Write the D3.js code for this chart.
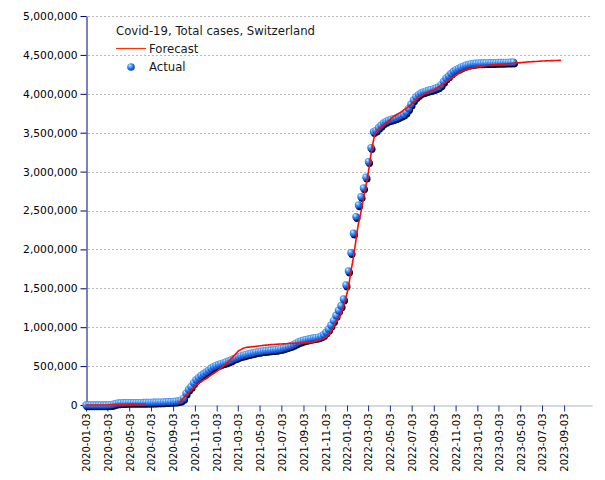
<!DOCTYPE html>
<html><head><meta charset="utf-8">
<script src="https://cdn.jsdelivr.net/npm/d3@7"></script>
<style>body{margin:0;background:#fff}svg{display:block}</style>
</head><body>
<script>
// ---- data ----
const title = "Covid-19, Total cases, Switzerland";
const seriesNames = ["Forecast", "Actual"];
const startDate = "2020-01-03"; // weekly observations from this date
const actual = [
0,0,0,0,0,0,0,0,0,1000,
2000,10000,20000,25000,27000,28500,29700,30200,30500,30700,
30900,31000,31100,31200,31600,32300,33600,34800,35700,36400,
37400,38600,40200,41700,43000,46000,49000,53000,62000,85000,
150000,200000,235000,285000,325000,352000,380000,402000,425000,448000,
472000,493000,507000,520000,532000,542000,552000,565000,578000,595000,
607000,620000,632000,641000,650000,658000,665000,672000,680000,686000,
691000,696000,700000,703000,706000,709000,713000,718000,724000,733000,
742000,752000,762000,776000,795000,810000,822000,832000,840000,848000,
855000,861000,866000,873000,885000,905000,935000,975000,1025000,1085000,
1150000,1215000,1275000,1362000,1542000,1722000,1957000,2207000,2420000,2571000,
2677000,2789000,2927000,3127000,3307000,3513000,3530000,3565000,3595000,3625000,
3645000,3660000,3670000,3680000,3690000,3705000,3720000,3735000,3765000,3810000,
3865000,3920000,3960000,3990000,4010000,4025000,4035000,4045000,4052000,4062000,
4075000,4088000,4115000,4160000,4200000,4230000,4262000,4290000,4310000,4325000,
4342000,4356000,4367000,4377000,4384000,4389000,4392000,4394000,4395000,4396000,
4397000,4398000,4399000,4400000,4401000,4402000,4402000,4403000,4404000,4404000,
4405000,4406000
];
const forecast = [
0,0,0,0,0,0,0,0,0,0,
3000,5000,7000,8000,9000,10000,10000,11000,11000,11000,
12000,12000,12000,12000,12000,null,null,null,null,null,
null,null,null,null,null,null,null,20000,55000,90000,
125000,155000,185000,215000,250000,275000,300000,320000,338000,360000,
385000,405000,425000,450000,475000,500000,528000,560000,595000,625000,
660000,695000,712000,728000,738000,744000,747000,750000,754000,758000,
762000,766000,770000,773000,776000,778000,780000,782000,784000,786000,
788000,790000,792000,793000,795000,796000,797000,799000,800000,802000,
805000,810000,818000,828000,838000,848000,870000,900000,945000,1000000,
1065000,1110000,1170000,1270000,1380000,1520000,1720000,1900000,2120000,2330000,
2480000,2650000,2820000,3000000,3220000,3400000,3510000,3545000,3575000,3600000,
3625000,3650000,3680000,3706000,3725000,3745000,3765000,3790000,3810000,3835000,
3865000,3895000,3925000,3950000,3972000,3992000,4010000,4025000,4040000,4052000,
4068000,4088000,4110000,4130000,4150000,4172000,4195000,4218000,4240000,4262000,
4280000,4295000,4308000,4318000,4326000,4334000,4341000,4347000,4353000,4358000,
4362000,4366000,4369000,4372000,4375000,4378000,4380000,4382000,4384000,4387000,
4390000,4392000,4395000,4398000,4401000,4404000,4407000,4410000,4412000,4414000,
4416000,4418000,4420000,4422000,4423000,4425000,4426000,4427000,4428000,4429000,
4430000
];
const xTickLabels = ["2020-01-03","2020-03-03","2020-05-03","2020-07-03","2020-09-03","2020-11-03",
"2021-01-03","2021-03-03","2021-05-03","2021-07-03","2021-09-03","2021-11-03",
"2022-01-03","2022-03-03","2022-05-03","2022-07-03","2022-09-03","2022-11-03",
"2023-01-03","2023-03-03","2023-05-03","2023-07-03","2023-09-03"];
const yTickValues = [0,500000,1000000,1500000,2000000,2500000,3000000,3500000,4000000,4500000,5000000];
const xDomain = ["2020-01-03","2023-11-20"];

// ---- chart ----
(function () {
const W = 605, H = 480;
const mLeft = 86, mRight = 592, mTop = 16, mBottom = 405;
const parse = d3.utcParse("%Y-%m-%d");
const t0 = parse(startDate);
const dateAt = i => d3.utcDay.offset(t0, 7 * i);

const x = d3.scaleUtc().domain(xDomain.map(parse)).range([mLeft, mRight]);
const y = d3.scaleLinear().domain([0, 5000000]).range([mBottom, mTop]);

const svg = d3.select("body").append("svg").attr("width", W).attr("height", H);
const defs = svg.append("defs");
const grad = defs.append("radialGradient").attr("id", "ball")
  .attr("cx", "40%").attr("cy", "36%").attr("r", "64%").attr("fx", "34%").attr("fy", "28%");
grad.append("stop").attr("offset", "0%").attr("stop-color", "#d8f2ff");
grad.append("stop").attr("offset", "30%").attr("stop-color", "#62b0ff");
grad.append("stop").attr("offset", "68%").attr("stop-color", "#2468e6");
grad.append("stop").attr("offset", "100%").attr("stop-color", "#0d3fae");

// gridlines
svg.append("g").selectAll("line").data(yTickValues.filter(v => v > 0)).join("line")
  .attr("x1", mLeft + 2).attr("x2", mRight - 2)
  .attr("y1", d => Math.round(y(d)) + 0.5).attr("y2", d => Math.round(y(d)) + 0.5)
  .attr("stroke", "#b8b8b8").attr("stroke-width", 1).attr("stroke-dasharray", "2,2");

// x axis
const xAxis = svg.append("g").attr("transform", `translate(0,${mBottom + 0.5})`)
  .call(d3.axisBottom(x).tickValues(xTickLabels.map(parse)).tickSize(6).tickSizeOuter(0)
    .tickFormat(d3.utcFormat("%Y-%m-%d")));
xAxis.select(".domain").attr("stroke", "#a9b2cc");
xAxis.selectAll(".tick line").attr("stroke", "#1a2a80");
xAxis.selectAll(".tick text")
  .attr("font-family", "DejaVu Sans").attr("font-size", "10px").attr("fill", "#000")
  .attr("transform", "rotate(-90)").attr("text-anchor", "end")
  .attr("x", -8).attr("y", 0).attr("dy", "0.38em");

// y axis
const yAxis = svg.append("g").attr("transform", `translate(${mLeft + 0.5},0)`)
  .call(d3.axisLeft(y).tickValues(yTickValues).tickSize(6).tickSizeOuter(0).tickFormat(d3.format(",")));
yAxis.select(".domain").attr("stroke", "#00007a");
yAxis.selectAll(".tick line").attr("stroke", "#00007a");
yAxis.selectAll(".tick text").attr("font-family", "DejaVu Sans").attr("font-size", "10.7px").attr("fill", "#000");

// actual markers: shadows then balls
const pts = actual.map((v, i) => ({ d: dateAt(i), v }));
svg.append("g").selectAll("circle").data(pts).join("circle")
  .attr("cx", p => x(p.d) + 1).attr("cy", p => y(p.v) + 1.6).attr("r", 3.6)
  .attr("fill", "#020a3a");
svg.append("g").selectAll("circle").data(pts).join("circle")
  .attr("cx", p => x(p.d)).attr("cy", p => y(p.v)).attr("r", 3.7)
  .attr("fill", "url(#ball)");

// forecast line
const fpts = forecast.map((v, i) => ({ d: dateAt(i), v }));
svg.append("path").datum(fpts)
  .attr("d", d3.line().defined(p => p.v !== null).x(p => x(p.d)).y(p => y(p.v)).curve(d3.curveMonotoneX))
  .attr("fill", "none").attr("stroke", "#ff0a00").attr("stroke-width", 1.6);

// legend
const lg = svg.append("g").attr("font-family", "DejaVu Sans").attr("font-size", "11.7px").attr("fill", "#1a1a1a");
lg.append("text").attr("x", 116).attr("y", 35).text(title);
lg.append("line").attr("x1", 116).attr("x2", 146).attr("y1", 48.5).attr("y2", 48.5)
  .attr("stroke", "#ff3300").attr("stroke-width", 1.2);
lg.append("text").attr("x", 149).attr("y", 53).text(seriesNames[0]);
lg.append("circle").attr("cx", 131).attr("cy", 67).attr("r", 3.8).attr("fill", "url(#ball)");
lg.append("text").attr("x", 149).attr("y", 71).text(seriesNames[1]);
})();
</script>
</body></html>
